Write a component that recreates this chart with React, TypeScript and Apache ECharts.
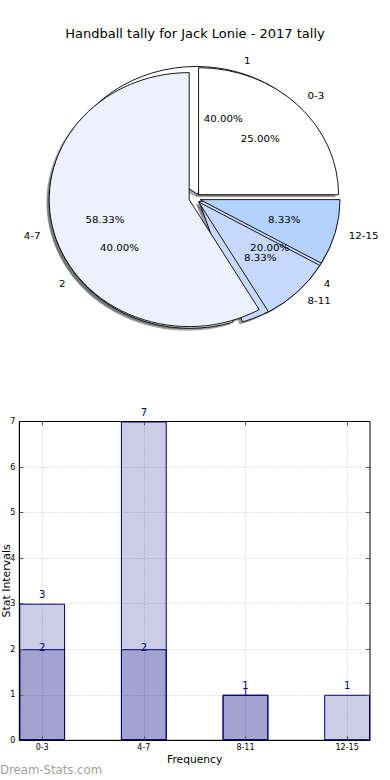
import React, { useEffect, useRef } from 'react';
import * as echarts from 'echarts';

// ---------- data ----------
const chartTitle = 'Handball tally for Jack Lonie - 2017 tally';
const categories = ['0-3', '4-7', '8-11', '12-15'];
const categoryCounts = [3, 7, 1, 1];
const secondLabels = ['1', '2', '4'];
const secondCounts = [2, 2, 1];
const barTotals = [3, 7, 1, 1];
const barSecond = [2, 2, 1, 0];
const sliceColors = ['#ffffff', '#ebf2fe', '#c6d9fd', '#b3d3fe'];
const watermark = 'Dream-Stats.com';

// ---------- style / geometry ----------
const FONT = 'DejaVu Sans';
const PCX = 194.6;
const PCY = 198.3;
const R = 133;
const SX = 140 / R;
const SY = 127 / R;
const EXPL = 0.04 * R;
const SHX = -2.8 / SX;
const SHY = 2.5 / SY;

function shadowOf(hex: string): string {
  const n = parseInt(hex.slice(1), 16);
  const r = Math.round(((n >> 16) & 255) * 0.3);
  const g = Math.round(((n >> 8) & 255) * 0.3);
  const b = Math.round((n & 255) * 0.3);
  return `rgba(${r},${g},${b},0.5)`;
}

const pieBase = {
  type: 'pie',
  startAngle: 0,
  clockwise: false,
  avoidLabelOverlap: false,
  selectedMode: 'multiple',
  selectedOffset: EXPL,
  silent: true,
  emphasis: { disabled: true },
  labelLine: { show: false, length: 0, length2: 0 },
};

function shadowSeries(names: string[], values: number[]) {
  return {
    ...pieBase,
    center: [PCX + SHX, PCY + SHY],
    radius: [0, R],
    label: { show: false },
    data: values.map((v, i) => ({
      name: names[i],
      value: v,
      selected: true,
      itemStyle: { color: shadowOf(sliceColors[i]), borderWidth: 0 },
    })),
  };
}

function wedgeSeries(names: string[], values: number[]) {
  return {
    ...pieBase,
    center: [PCX, PCY],
    radius: [0, R],
    label: { show: false },
    data: values.map((v, i) => ({
      name: names[i],
      value: v,
      selected: true,
      itemStyle: { color: sliceColors[i], borderColor: '#000', borderWidth: 0.9 },
    })),
  };
}

function pctSeries(names: string[], values: number[]) {
  const total = values.reduce((s, v) => s + v, 0);
  return {
    ...pieBase,
    selectedMode: false,
    center: [PCX, PCY],
    radius: [0.28 * R, R],
    itemStyle: { color: 'rgba(0,0,0,0)', borderWidth: 0 },
    label: {
      show: true,
      position: 'inside',
      fontFamily: FONT,
      fontSize: 9.75,
      color: '#000',
      formatter: (p: any) => ((p.value / total) * 100).toFixed(2) + '%',
    },
    data: values.map((v, i) => ({ name: names[i], value: v })),
  };
}

function nameSeries(names: string[], values: number[]) {
  return {
    ...pieBase,
    selectedMode: false,
    center: [PCX, PCY],
    radius: [0, 1.14 * R],
    itemStyle: { color: 'rgba(0,0,0,0)', borderWidth: 0 },
    label: {
      show: true,
      position: 'outside',
      distanceToLabelLine: 0,
      fontFamily: FONT,
      fontSize: 9.75,
      color: '#000',
      formatter: '{b}',
    },
    data: values.map((v, i) => ({ name: names[i], value: v })),
  };
}

function pieOption() {
  return {
    animation: false,
    series: [
      shadowSeries(secondLabels, secondCounts),
      shadowSeries(categories, categoryCounts),
      wedgeSeries(secondLabels, secondCounts),
      wedgeSeries(categories, categoryCounts),
      pctSeries(secondLabels, secondCounts),
      pctSeries(categories, categoryCounts),
      nameSeries(secondLabels, secondCounts),
      nameSeries(categories, categoryCounts),
    ],
  };
}

const tickPositions = categories.map((_, i) => i);
const X_MIN = -0.225;
const X_MAX = 3.225;
const Y_MIN = 0;
const Y_MAX = 7;

function barOption() {
  const gridLine = { show: true, lineStyle: { color: 'rgba(0,0,0,0.22)', type: [1, 2], width: 1 } };
  const tickStyle = { color: '#555' };
  return {
    animation: false,
    title: {
      text: chartTitle,
      left: 'center',
      top: 22,
      textStyle: { fontFamily: FONT, fontSize: 13, fontWeight: 'normal', color: '#000' },
    },
    grid: {
      left: 19.3,
      top: 421.5,
      width: 350.7,
      height: 318.8,
      containLabel: false,
      outerBoundsMode: 'none',
      show: true,
      z: 6,
      borderColor: '#000',
      borderWidth: 1,
      backgroundColor: 'rgba(0,0,0,0)',
    },
    xAxis: [
      {
        type: 'value',
        min: X_MIN,
        max: X_MAX,
        z: 5,
        name: 'Frequency',
        nameLocation: 'middle',
        nameGap: 14,
        nameMoveOverlap: false,
        nameTextStyle: { fontFamily: FONT, fontSize: 10.7, color: '#000' },
        axisLine: { show: true, onZero: false, lineStyle: { color: '#000' } },
        axisTick: { show: true, inside: true, length: 4, customValues: tickPositions, lineStyle: tickStyle },
        axisLabel: {
          customValues: tickPositions,
          formatter: (v: number) => categories[Math.round(v)] ?? '',
          fontFamily: FONT,
          fontSize: 8,
          margin: 3,
          color: '#000',
        },
        splitLine: gridLine,
      },
      {
        type: 'value',
        position: 'top',
        min: X_MIN,
        max: X_MAX,
        z: 5,
        axisLine: { show: false, onZero: false },
        axisTick: { show: true, inside: true, length: 4, customValues: tickPositions, lineStyle: tickStyle },
        axisLabel: { show: false },
        splitLine: { show: false },
      },
    ],
    yAxis: [
      {
        type: 'value',
        min: Y_MIN,
        max: Y_MAX,
        interval: 1,
        z: 5,
        name: 'Stat Intervals',
        nameLocation: 'middle',
        nameGap: 7,
        nameMoveOverlap: false,
        nameTextStyle: { fontFamily: FONT, fontSize: 10.9, color: '#000' },
        axisLine: { show: true, onZero: false, lineStyle: { color: '#000' } },
        axisTick: { show: true, inside: true, length: 4, lineStyle: tickStyle },
        axisLabel: { fontFamily: FONT, fontSize: 8, margin: 4, color: '#000' },
        splitLine: gridLine,
      },
      {
        type: 'value',
        position: 'right',
        min: Y_MIN,
        max: Y_MAX,
        interval: 1,
        z: 5,
        axisLine: { show: false, onZero: false },
        axisTick: { show: true, inside: true, length: 4, lineStyle: tickStyle },
        axisLabel: { show: false },
        splitLine: { show: false },
      },
    ],
    series: [
      {
        type: 'bar',
        barWidth: 45.8,
        barGap: '-100%',
        data: barTotals.map((v, i) => [i, v]),
        itemStyle: { color: 'rgba(0,0,128,0.2)', borderColor: '#000080', borderWidth: 1 },
        label: {
          show: true,
          position: 'top',
          distance: 4,
          fontFamily: FONT,
          fontSize: 10,
          color: '#000080',
          formatter: (p: any) => String(p.value[1]),
        },
      },
      {
        type: 'bar',
        barWidth: 45.8,
        barGap: '-100%',
        data: barSecond.map((v, i) => [i, v]),
        itemStyle: { color: 'rgba(0,0,128,0.2)', borderColor: '#000080', borderWidth: 1 },
        label: {
          show: true,
          position: 'top',
          distance: -3,
          fontFamily: FONT,
          fontSize: 10,
          color: '#000080',
          formatter: (p: any) => (p.value[1] > 0 ? String(p.value[1]) : ''),
        },
      },
    ],
    graphic: [
      {
        type: 'text',
        x: 0,
        y: 770,
        scaleX: 0.9,
        style: {
          text: watermark,
          fontFamily: FONT,
          fontSize: 13,
          fill: '#a0a0a0',
          verticalAlign: 'middle',
        },
      },
    ],
  };
}

export default function App() {
  const refA = useRef<HTMLDivElement>(null);
  const refB = useRef<HTMLDivElement>(null);
  useEffect(() => {
    const a = echarts.init(refA.current!, null, { renderer: 'svg' });
    const b = echarts.init(refB.current!, null, { renderer: 'svg' });
    a.setOption(barOption() as any);
    b.setOption(pieOption() as any);
    return () => {
      a.dispose();
      b.dispose();
    };
  }, []);
  return (
    <div style={{ position: 'absolute', left: 0, top: 0, width: 390, height: 780, background: '#fff', overflow: 'hidden' }}>
      <div ref={refA} style={{ position: 'absolute', left: 0, top: 0, width: 390, height: 780 }} />
      <div
        ref={refB}
        style={{
          position: 'absolute',
          left: 0,
          top: 0,
          width: 390,
          height: 400,
          transform: `scale(${SX}, ${SY})`,
          transformOrigin: `${PCX}px ${PCY}px`,
        }}
      />
    </div>
  );
}
